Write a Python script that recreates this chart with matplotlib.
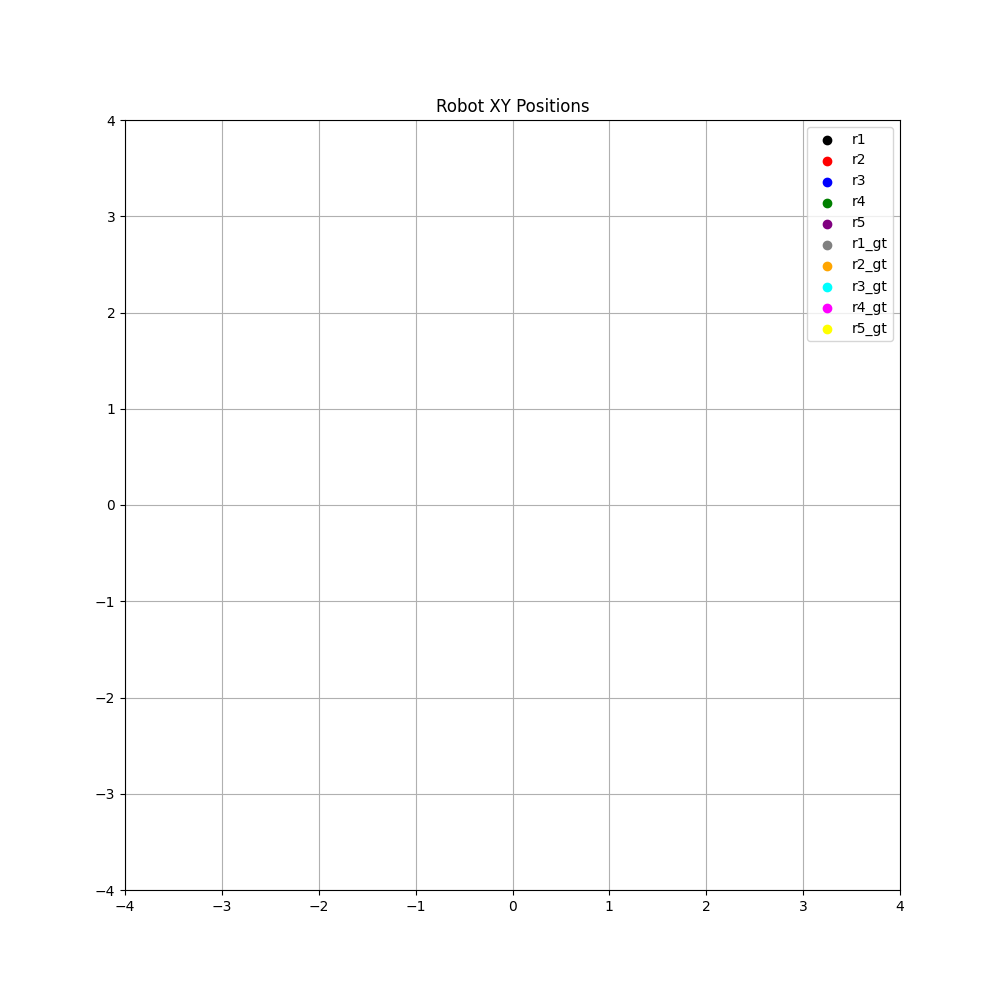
import matplotlib
matplotlib.use("Agg")
import matplotlib.pyplot as plt

robots = ["r1", "r2", "r3", "r4", "r5"]
est_colors = ["black", "red", "blue", "green", "purple"]
gt_colors = ["gray", "orange", "cyan", "magenta", "yellow"]
# No positions recorded in the reference image (empty plot)
est_x = {r: [] for r in robots}
est_y = {r: [] for r in robots}
gt_x = {r: [] for r in robots}
gt_y = {r: [] for r in robots}
ticks = [-4, -3, -2, -1, 0, 1, 2, 3, 4]

fig, ax = plt.subplots(figsize=(10, 10), dpi=100)
for r, c in zip(robots, est_colors):
    ax.scatter(est_x[r], est_y[r], c=c, label=r)
for r, c in zip(robots, gt_colors):
    ax.scatter(gt_x[r], gt_y[r], c=c, label=f"{r}_gt")

ax.set_xlim(-4, 4)
ax.set_ylim(-4, 4)
ax.set_xticks(ticks)
ax.set_yticks(ticks)
ax.set_title("Robot XY Positions")
ax.grid(True)
ax.legend(loc="upper right")
fig.savefig("out.png", dpi=100)
